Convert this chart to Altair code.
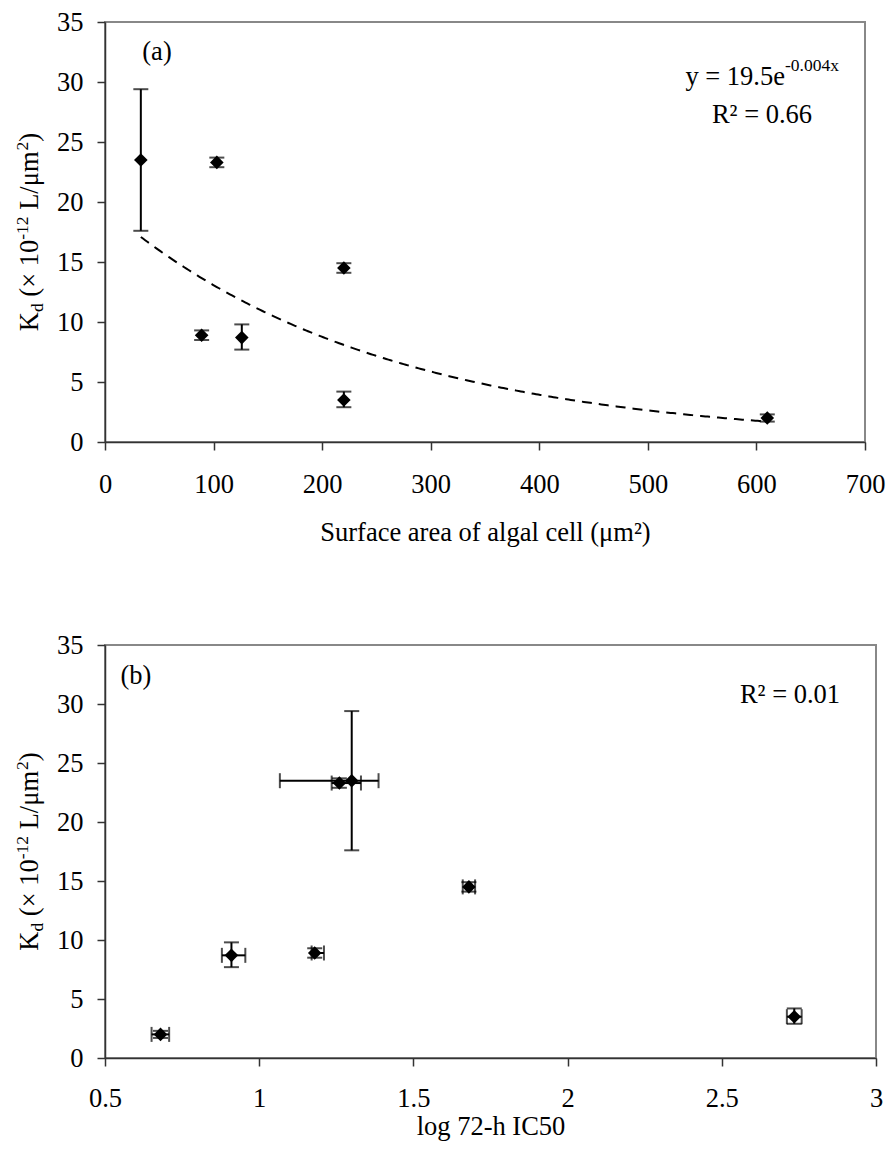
import altair as alt
import pandas as pd

# ---------------- data ----------------
species_area = [33, 103, 89, 126, 220, 220, 610]          # surface area (µm²)
kd = [23.5, 23.3, 8.9, 8.7, 14.5, 3.5, 2.0]              # Kd (x1e-12 L/µm²)
kd_lo = [17.6, 22.9, 8.5, 7.7, 14.1, 2.9, 1.7]
kd_hi = [29.4, 23.7, 9.3, 9.8, 14.9, 4.2, 2.3]
log_ic50 = [1.30, 1.26, 1.18, 0.91, 1.68, 2.735, 0.68]
log_ic50_lo = [1.067, 1.235, 1.17, 0.879, 1.66, 2.711, 0.651]
log_ic50_hi = [1.387, 1.33, 1.21, 0.955, 1.70, 2.759, 0.708]

area_ticks = [0, 100, 200, 300, 400, 500, 600, 700]
ic50_ticks = [0.5, 1, 1.5, 2, 2.5, 3]
kd_ticks = [0, 5, 10, 15, 20, 25, 30, 35]

# exponential trend shown on panel (a): y = 19.5 e^(-0.004 x)
TREND_A = 19.5
TREND_B = -0.004

df = pd.DataFrame({
    "area": species_area, "kd": kd, "kd_lo": kd_lo, "kd_hi": kd_hi,
    "lic": log_ic50, "lic_lo": log_ic50_lo, "lic_hi": log_ic50_hi,
})

FONT = "Liberation Serif"
F = 26.5    # main font size
S = 17.5    # sub/superscript font size
W_TOP, H_TOP = 760, 420
W_BOT, H_BOT = 771, 413

# Times / Liberation Serif advance widths (em)
CW = {"K": .722, "d": .5, " ": .25, "(": .333, "×": .564, "1": .5, "0": .5,
      "-": .333, "2": .5, "L": .611, "/": .278, "μ": .576, "m": .778, ")": .333}


def tw(t, size):
    return sum(CW.get(c, .5) for c in t) * size


def one():
    return alt.Data(values=[{"k": 0}])


def txt(text, x, y, size=F, align="left", angle=0, baseline="alphabetic"):
    kw = dict(text=text, font=FONT, fontSize=size, align=align, baseline=baseline, color="black")
    if angle:
        kw["angle"] = angle
    return alt.Chart(one()).mark_text(**kw).encode(x=alt.value(x), y=alt.value(y))


def y_title(height, base_x=-67):
    # (text, size, shift across baseline, gap before)
    pieces = [("K", F, 0, 0), ("d", S, 5, 0), ("(× 10", F, 0, .25 * F),
              ("-12", S, -10, 0), ("L/μm", F, 0, .25 * F), ("2", S, -10, 0), (")", F, 0, 0)]
    total = sum(tw(t, s) + g for t, s, _, g in pieces)
    pos = height / 2 + total / 2
    layers = []
    for t, s, sh, g in pieces:
        pos -= g
        layers.append(txt(t, base_x + sh, pos, size=s, angle=270))
        pos -= tw(t, s)
    return layers


def y_enc(field):
    return alt.Y(f"{field}:Q", scale=alt.Scale(domain=[0, 35], nice=False),
                 axis=alt.Axis(values=kd_ticks, title=None))


def top_x(field):
    return alt.X(f"{field}:Q", scale=alt.Scale(domain=[0, 700], nice=False),
                 axis=alt.Axis(values=area_ticks, title="Surface area of algal cell (μm²)",
                               titlePadding=22))


def bot_x(field):
    return alt.X(f"{field}:Q", scale=alt.Scale(domain=[0.5, 3], nice=False),
                 axis=alt.Axis(values=ic50_ticks, format="~g", title="log 72-h IC50",
                               labelPadding=19, titlePadding=2))


base = alt.Chart(df)
CAP = 15
LW = 2
DIAMOND = 185

# ---------------- panel (a) ----------------
trend = (
    alt.Chart(alt.sequence(min(species_area), max(species_area) + 1, 2, as_="sx"))
    .transform_calculate(sy=f"{TREND_A}*exp({TREND_B}*datum.sx)")
    .mark_line(color="black", strokeWidth=2, strokeDash=[10, 7])
    .encode(x=top_x("sx"), y=y_enc("sy"))
)
a_rule = base.mark_rule(color="black", strokeWidth=LW).encode(
    x=top_x("area"), y=y_enc("kd_lo"), y2="kd_hi:Q")
a_cap_lo = base.mark_tick(orient="horizontal", size=CAP, thickness=LW, color="black").encode(
    x=top_x("area"), y=y_enc("kd_lo"))
a_cap_hi = base.mark_tick(orient="horizontal", size=CAP, thickness=LW, color="black").encode(
    x=top_x("area"), y=y_enc("kd_hi"))
a_pts = base.mark_point(shape="diamond", filled=True, size=DIAMOND, color="black", opacity=1).encode(
    x=top_x("area"), y=y_enc("kd"))

panel_a = alt.layer(
    trend, a_rule, a_cap_lo, a_cap_hi, a_pts,
    txt("(a)", 52, 38, align="center"),
    txt("y = 19.5e", 680, 63, align="right"),
    txt("-0.004x", 680, 49, size=S, align="left"),
    txt("R² = 0.66", 657, 101, align="center"),
    *y_title(H_TOP),
).properties(width=W_TOP, height=H_TOP)

# ---------------- panel (b) ----------------
b_rule_y = base.mark_rule(color="black", strokeWidth=LW).encode(
    x=bot_x("lic"), y=y_enc("kd_lo"), y2="kd_hi:Q")
b_rule_x = base.mark_rule(color="black", strokeWidth=LW).encode(
    x=bot_x("lic_lo"), x2="lic_hi:Q", y=y_enc("kd"))
b_cap_ylo = base.mark_tick(orient="horizontal", size=CAP, thickness=LW, color="black").encode(
    x=bot_x("lic"), y=y_enc("kd_lo"))
b_cap_yhi = base.mark_tick(orient="horizontal", size=CAP, thickness=LW, color="black").encode(
    x=bot_x("lic"), y=y_enc("kd_hi"))
b_cap_xlo = base.mark_tick(orient="vertical", size=CAP, thickness=LW, color="black").encode(
    x=bot_x("lic_lo"), y=y_enc("kd"))
b_cap_xhi = base.mark_tick(orient="vertical", size=CAP, thickness=LW, color="black").encode(
    x=bot_x("lic_hi"), y=y_enc("kd"))
b_pts = base.mark_point(shape="diamond", filled=True, size=DIAMOND, color="black", opacity=1).encode(
    x=bot_x("lic"), y=y_enc("kd"))

panel_b = alt.layer(
    b_rule_y, b_rule_x, b_cap_ylo, b_cap_yhi, b_cap_xlo, b_cap_xhi, b_pts,
    txt("(b)", 31, 39, align="center"),
    txt("R² = 0.01", 685, 58, align="center"),
    *y_title(H_BOT),
).properties(width=W_BOT, height=H_BOT)

chart = (
    alt.vconcat(panel_a, panel_b, spacing=84)
    .properties(padding={"left": 4, "top": 0, "right": 0, "bottom": 0})
    .configure_axis(
        labelFont=FONT, labelFontSize=F, labelColor="black",
        titleFont=FONT, titleFontSize=F, titleFontWeight="normal", titleColor="black",
        domainColor="#333333", domainWidth=1.5, tickColor="#333333", tickWidth=1.5,
        tickSize=8, labelPadding=21, grid=False, labelFlush=False, labelOverlap=False,
    )
    .configure_axisY(labelPadding=14)
    .configure_view(stroke="#888888", strokeWidth=2)
)

chart.save("out.html", embed_options={"renderer": "svg", "actions": False})
